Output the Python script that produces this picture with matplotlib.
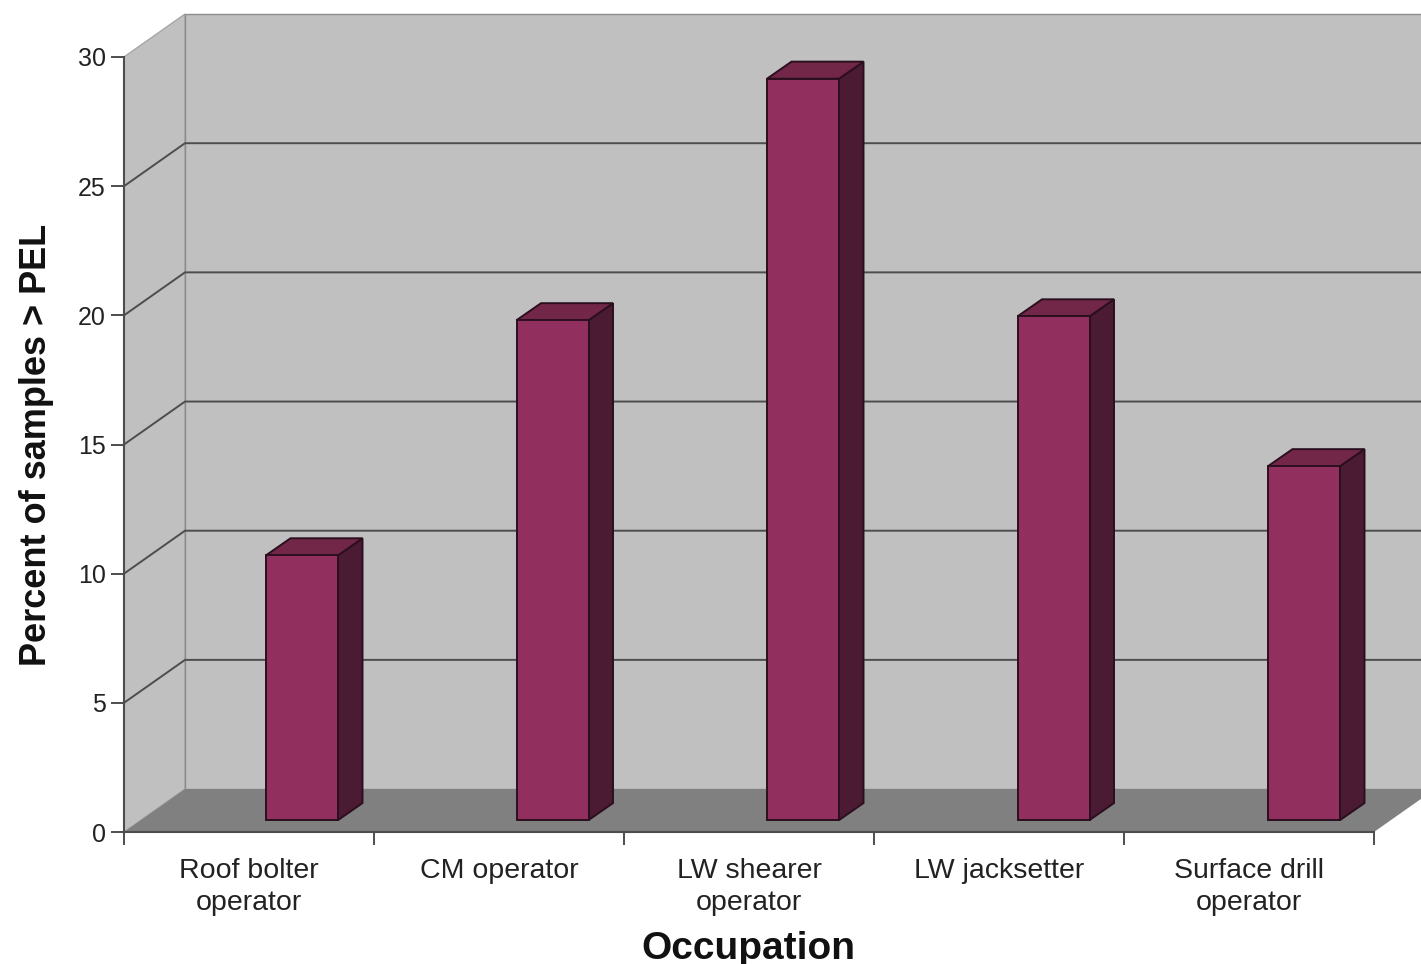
import matplotlib
matplotlib.use('Agg')
import matplotlib.pyplot as plt
from matplotlib.patches import Polygon

plt.rcParams['font.family'] = ['Liberation Sans', 'DejaVu Sans']

occupations = ['Roof bolter\noperator', 'CM operator', 'LW shearer\noperator',
               'LW jacksetter', 'Surface drill\noperator']
percent = [10.25, 19.35, 28.7, 19.5, 13.7]
y_ticks = [0, 5, 10, 15, 20, 25, 30]

# fake 3d: how far the back wall sits from the front plane, in data units
depth_x = 0.244
depth_y = 1.663
bar_dx = 0.098
bar_dy = 0.66
bar_width = 0.288
bar_offset = 0.568
bar_pitch = 1.002
bar_base = 0.46

wall_col = '#c0c0c0'
floor_col = '#808080'
face_col = '#912f5f'
top_col = '#722749'
side_col = '#4b1a33'
edge_col = '#2b0f1f'
line_col = '#4d4d4d'
text_col = '#222222'

fig = plt.figure(figsize=(14.21, 9.64), dpi=100)
ax = fig.add_axes([124 / 1421, 132 / 964, 1250 / 1421, 775 / 964])
ax.set_xlim(0, 5)
ax.set_ylim(0, 30)

# walls and floor
ax.add_patch(Polygon([(0, 0), (depth_x, depth_y), (depth_x, 30 + depth_y), (0, 30)],
                     fc=wall_col, ec='#a6a6a6', lw=1, clip_on=False, zorder=1))
ax.add_patch(Polygon([(depth_x, depth_y), (5 + depth_x, depth_y),
                      (5 + depth_x, 30 + depth_y), (depth_x, 30 + depth_y)],
                     fc=wall_col, ec='#8c8c8c', lw=1, clip_on=False, zorder=1))
ax.add_patch(Polygon([(0, 0), (5, 0), (5 + depth_x, depth_y), (depth_x, depth_y)],
                     fc=floor_col, ec='none', clip_on=False, zorder=1.5))

for v in y_ticks[1:-1]:
    ax.plot([0, depth_x, 5 + depth_x], [v, v + depth_y, v + depth_y],
            color=line_col, lw=1.4, clip_on=False, zorder=2)

# bars
xs = [i * bar_pitch + bar_offset for i in range(len(percent))]
ax.bar(xs, percent, width=bar_width, bottom=bar_base, align='edge',
       color=face_col, edgecolor=edge_col, linewidth=1.4, zorder=4, clip_on=False)
for x, v in zip(xs, percent):
    top = v + bar_base
    right = x + bar_width
    ax.add_patch(Polygon([(right, bar_base), (right + bar_dx, bar_base + bar_dy),
                          (right + bar_dx, top + bar_dy), (right, top)],
                         fc=side_col, ec=edge_col, lw=1.4, clip_on=False, zorder=3.5))
    ax.add_patch(Polygon([(x, top), (x + bar_dx, top + bar_dy),
                          (right + bar_dx, top + bar_dy), (right, top)],
                         fc=top_col, ec=edge_col, lw=1.4, clip_on=False, zorder=3.5))

# axes
for s in ['top', 'right']:
    ax.spines[s].set_visible(False)
for s in ['left', 'bottom']:
    ax.spines[s].set_color(line_col)
    ax.spines[s].set_linewidth(1.5)
    ax.spines[s].set_zorder(5)

ax.set_yticks(y_ticks)
ax.tick_params(axis='y', length=9.5, width=1.4, color=line_col, labelsize=18,
               labelcolor=text_col, pad=3.5)
ax.set_xticks(range(6))
ax.set_xticklabels([])
ax.tick_params(axis='x', length=9.5, width=1.4, color=line_col)
for i, name in enumerate(occupations):
    ax.annotate(name, xy=(i + 0.5, 0), xytext=(0, -18.5), textcoords='offset points',
                ha='center', va='top', fontsize=20.5, color=text_col, linespacing=1.34,
                annotation_clip=False)

fig.text(748 / 1421, 1 - 949 / 964, 'Occupation', ha='center', va='center',
         fontsize=28, fontweight='bold', color='#111111')
fig.text(37 / 1421, 1 - 445 / 964, 'Percent of samples > PEL', rotation=90, ha='center',
         va='center', fontsize=26, fontweight='bold', color='#111111')

fig.savefig('out.png', dpi=100)
